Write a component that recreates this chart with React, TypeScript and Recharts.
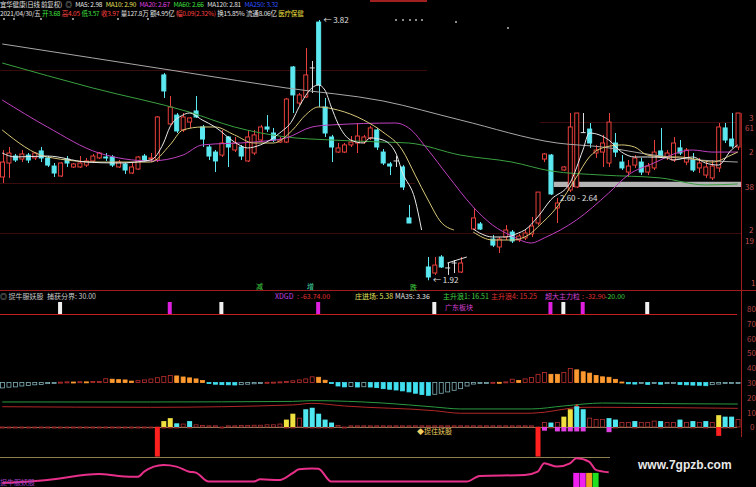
import React from 'react';
import {
  ComposedChart, Bar, Line, XAxis, YAxis,
  ReferenceArea, ReferenceDot,
} from 'recharts';

// ---- daily bars (oldest first), null = no print ----
const opens = [
  2.674, 2.776, 2.827, 2.805, 2.834, 2.813, 2.864, 2.813, 2.754, 2.681,
  2.805, 2.747, 2.747, 2.761, 2.791, 2.813, 2.820, 2.820, 2.747, 2.769,
  2.703, 2.732, 2.827, 2.805, 2.798, 3.419, 3.061, 3.126, 3.017, 3.075,
  3.156, 3.039, 2.893, 2.856, 2.834, 2.966, 2.871, 2.893, 2.791, 2.849,
  2.944, 3.039, 2.995, 2.929, 2.929, 3.477, 3.214, 3.258, 3.470, 3.805,
  3.185, 2.966, 2.856, 2.856, 2.908, 2.922, 2.929, 2.959, 3.017, 2.856,
  2.769, 2.791, 2.747, 2.375, null, null, 2.017, 1.973, 2.090, 2.010,
  2.046, 1.980, null, 2.294, 2.331, null, 2.221, 2.163, 2.236, 2.272,
  2.214, 2.229, 2.258, 2.338, 2.805, 2.834, 2.448, 2.725, 2.579, 2.601,
  2.998, 3.024, 2.849, 2.856, 2.776, 2.922, 2.783, 2.710, 2.761, 2.783,
  2.710, 2.740, 2.864, 2.820, 2.798, 2.886, 2.783, 2.798, 2.740, 2.688,
  2.667, 2.740, 3.032, 2.951, 2.893,
];
const highs = [
  2.871, 2.893, 2.842, 2.871, 2.849, 2.856, 2.893, 2.827, 2.776, 2.783,
  2.827, 2.776, 2.827, 2.813, 2.842, 2.856, 2.849, 2.834, 2.798, 2.776,
  2.776, 2.827, 2.842, 2.849, 3.119, 3.433, 3.265, 3.141, 3.141, 3.112,
  3.265, 3.054, 2.908, 2.871, 3.017, 2.973, 2.966, 2.908, 3.017, 3.017,
  3.054, 3.126, 3.032, 2.966, 3.251, 3.484, 3.287, 3.616, 3.521, 3.820,
  3.251, 2.981, 2.922, 2.922, 2.973, 3.068, 2.981, 3.046, 3.032, 2.878,
  2.783, 2.827, 2.761, 2.470, null, null, 2.090, 2.090, 2.104, 2.046,
  2.068, 2.090, null, 2.448, 2.345, null, 2.251, 2.236, 2.323, 2.287,
  2.258, 2.287, 2.382, 2.564, 2.849, 2.842, 2.521, 2.754, 3.141, 3.141,
  3.141, 3.068, 2.908, 2.981, 3.141, 2.995, 2.834, 2.798, 2.834, 2.813,
  2.776, 2.944, 3.032, 2.871, 2.966, 2.944, 2.886, 2.849, 2.813, 2.783,
  2.798, 3.068, 3.068, 3.141, 3.141,
];
const lows = [
  2.630, 2.667, 2.783, 2.783, 2.776, 2.798, 2.783, 2.747, 2.674, 2.674,
  2.747, 2.740, 2.740, 2.747, 2.776, 2.805, 2.791, 2.747, 2.740, 2.696,
  2.696, 2.725, 2.783, 2.783, 2.783, 3.251, 3.054, 2.995, 3.002, 3.032,
  3.105, 2.893, 2.798, 2.710, 2.820, 2.747, 2.856, 2.798, 2.783, 2.834,
  2.929, 3.002, 2.929, 2.922, 2.922, 3.141, 3.200, 3.251, 3.287, 3.185,
  2.966, 2.783, 2.849, 2.849, 2.893, 2.849, 2.915, 2.944, 2.871, 2.761,
  2.688, 2.747, 2.579, 2.338, null, null, 1.920, 1.959, 2.010, 1.959,
  1.973, 1.973, null, 2.287, 2.287, null, 2.163, 2.119, 2.214, 2.192,
  2.199, 2.214, 2.236, 2.323, 2.783, 2.542, 2.338, 2.718, 2.564, 2.594,
  2.995, 2.886, 2.813, 2.747, 2.747, 2.820, 2.725, 2.674, 2.740, 2.688,
  2.688, 2.725, 2.813, 2.798, 2.783, 2.834, 2.761, 2.710, 2.703, 2.667,
  2.652, 2.710, 2.922, 2.886, 2.871,
];
const closes = [
  2.783, 2.849, 2.798, 2.842, 2.798, 2.849, 2.813, 2.761, 2.703, 2.776,
  2.776, 2.769, 2.776, 2.791, 2.827, 2.849, 2.813, 2.761, 2.783, 2.725,
  2.747, 2.820, 2.791, 2.813, 3.112, 3.302, 3.185, 3.010, 3.112, 3.105,
  3.112, 2.951, 2.827, 2.791, 2.922, 2.893, 2.922, 2.827, 2.966, 2.981,
  3.039, 3.024, 2.944, 2.944, 3.243, 3.273, 3.273, 3.419, 3.470, 3.346,
  2.995, 2.893, 2.886, 2.908, 2.929, 2.973, 2.966, 3.032, 2.893, 2.776,
  2.754, 2.791, 2.601, 2.338, null, null, 1.944, 2.031, 2.017, 2.010,
  2.046, 2.046, null, 2.375, 2.294, null, 2.177, 2.221, 2.287, 2.207,
  2.243, 2.265, 2.316, 2.564, 2.842, 2.550, 2.484, 2.747, 3.039, 3.141,
  2.998, 2.922, 2.871, 2.922, 3.075, 2.856, 2.740, 2.754, 2.813, 2.710,
  2.754, 2.856, 2.827, 2.849, 2.922, 2.849, 2.871, 2.725, 2.776, 2.747,
  2.754, 3.039, 2.944, 2.900, 3.141,
];

// moving averages as [session, price] knots
type Knot = [number, number];
const ma5A: Knot[] = [
  [0, 2.849], [2, 2.820], [7, 2.827], [13, 2.783], [18, 2.776], [23, 2.798],
  [25, 2.922], [26, 3.039], [28, 3.126], [29, 3.141], [31, 3.090], [33, 3.039],
  [36, 2.929], [38, 2.886], [40, 2.908], [43, 2.995], [45, 3.090], [46, 3.185],
  [48, 3.324], [49, 3.346], [50, 3.309], [51, 3.185], [52, 3.068], [54, 2.944],
  [56, 2.922], [57, 2.959], [59, 2.944], [61, 2.849], [62, 2.710], [64, 2.506],
  [65, 2.287],
];
const ma5B: Knot[] = [[69, 2.046], [72, 2.090]];
const ma5C: Knot[] = [
  [73, 2.294], [74, 2.265], [76, 2.236], [78, 2.236], [80, 2.265], [81, 2.287],
  [83, 2.382], [85, 2.506], [88, 2.630], [90, 2.871], [91, 2.995], [94, 2.944],
  [96, 2.856], [98, 2.820], [100, 2.820], [103, 2.813], [104, 2.798], [107, 2.820],
  [109, 2.776], [111, 2.761], [113, 2.871], [114, 2.908],
];
const ma10A: Knot[] = [
  [0, 3.017], [7, 2.820], [15, 2.783], [23, 2.783], [26, 2.908], [28, 3.017],
  [31, 3.039], [33, 3.039], [36, 2.981], [39, 2.922], [42, 2.922], [45, 3.017],
  [47, 3.126], [49, 3.185], [52, 3.163], [56, 3.090], [59, 3.002], [62, 2.871],
  [64, 2.688], [66, 2.506], [68, 2.345], [70, 2.287],
];
const ma10C: Knot[] = [
  [73, 2.272], [76, 2.214], [79, 2.214], [82, 2.265], [83, 2.309], [86, 2.455],
  [89, 2.674], [91, 2.820], [93, 2.886], [96, 2.908], [98, 2.893], [100, 2.834],
  [103, 2.820], [105, 2.820], [108, 2.798], [110, 2.783], [113, 2.834], [114, 2.856],
];
const ma20: Knot[] = [
  [0, 3.236], [7, 3.039], [15, 2.849], [23, 2.791], [28, 2.834], [31, 2.908],
  [39, 2.929], [44, 2.959], [48, 3.039], [51, 3.054], [61, 3.068], [63, 3.032],
  [66, 2.871], [69, 2.688], [73, 2.455], [76, 2.323], [79, 2.243], [82, 2.192],
  [84, 2.229], [89, 2.360], [94, 2.557], [97, 2.688], [101, 2.776], [105, 2.856],
  [107, 2.871], [110, 2.856], [114, 2.856],
];
const ma60: Knot[] = [
  [0, 3.506], [14, 3.324], [29, 3.148], [36, 3.039], [44, 2.966], [51, 2.944],
  [59, 2.929], [63, 2.922], [71, 2.834], [79, 2.783], [85, 2.718], [93, 2.688],
  [102, 2.667], [109, 2.616], [114, 2.623],
];
const ma120: Knot[] = [
  [0, 3.645], [14, 3.543], [29, 3.433], [44, 3.324], [59, 3.229], [71, 3.090],
  [86, 2.922], [93, 2.893], [101, 2.834], [108, 2.798], [114, 2.783],
];

// support band drawn across the right side
const bandLow = 2.60;
const bandHigh = 2.64;
const bandFrom = 86;

// signal ticks
const whiteSignals = [9, 34, 67, 87, 100];
const magentaSignals = [26, 49, 85, 90];

// oscillator histogram around 30
const hist = [
  26.4, 26.9, 27.1, 27.7, 28.0, 28.5, 28.7, 29.3, 29.6, 30.3,
  30.5, 30.4, 30.6, 30.5, 30.7, 30.8, 32.6, 32.3, 32.0, 31.8,
  31.0, 31.3, 31.8, 32.4, 33.3, 34.2, 34.8, 34.5, 33.8, 33.2,
  32.5, 31.4, 29.6, 28.9, 28.6, 28.5, 28.4, 28.6, 28.9, 29.2,
  29.8, 30.2, 30.3, 30.5, 30.8, 31.2, 31.8, 32.5, 33.9, 33.6,
  31.6, 29.8, 27.7, 27.1, 27.3, 27.0, 27.2, 27.0, 26.6, 25.9,
  25.5, 25.0, 24.4, 23.7, 22.8, 21.9, 21.4, 22.1, 22.8, 23.7,
  24.8, 25.9, 27.7, 29.0, 29.5, 29.7, 30.2, 30.2, 30.5, 32.3,
  31.5, 32.5, 33.4, 35.6, 36.8, 35.6, 35.6, 36.8, 39.5, 38.6,
  37.3, 36.4, 34.8, 33.9, 33.6, 32.2, 30.4, 29.2, 29.0, 29.4,
  28.8, 29.6, 28.9, 29.3, 29.5, 28.7, 28.5, 28.3, 28.2, 27.9,
  28.6, 29.0, 29.4, 29.6, 29.9,
];
const histMid = 30;

// two slow oscillator lines
const slowGreen: Knot[] = [
  [0, 16.9], [23, 16.9], [45, 17.3], [48, 17.8], [59, 16.2], [67, 13.5],
  [71, 12.2], [82, 12.2], [87, 14.2], [93, 16.2], [102, 15.8], [114, 15.5],
];
const slowRed: Knot[] = [
  [0, 13.7], [23, 13.3], [45, 14.9], [48, 16.0], [53, 14.2], [67, 11.0],
  [71, 9.3], [82, 9.3], [90, 13.3], [93, 13.3], [114, 12.6],
];

// pulse bars around zero
const pulseYellow: Knot[] = [[25, 4], [26, 6], [44, 5], [45, 9], [87, 7], [88, 12], [111, 8]];
const pulseCyan: Knot[] = [
  [27, 2.5], [29, 4], [47, 12], [48, 13], [49, 9], [50, 5], [51, 3], [85, 3],
  [89, 14], [90, 12], [94, 6], [95, 5], [98, 4], [102, 4], [105, 5], [107, 4],
  [109, 4], [112, 7], [113, 7],
];
const pulseHold: Knot[] = [
  [28, 2], [30, 1.5], [31, 1], [32, 0.8], [33, 0.8], [35, 0.8], [36, 0.8], [37, 1],
  [38, 1], [39, 1.2], [40, 1.2], [41, 1.5], [42, 1.5], [43, 2], [46, 6], [52, 1],
  [54, 0.8], [55, 0.8], [56, 0.8], [57, 0.8], [58, 0.8], [59, 0.8], [60, 0.8],
  [61, 0.8], [62, 0.8], [63, 0.8], [64, 0.8], [65, 0.8], [66, 0.8], [67, 0.8],
  [68, 0.8], [69, 0.8], [70, 0.8], [71, 0.8], [72, 0.8], [73, 0.8], [74, 0.8],
  [75, 0.8], [76, 0.8], [77, 0.8], [78, 0.8], [79, 0.8], [80, 0.8], [81, 0.8],
  [82, 0.8], [84, 3], [86, 3], [91, 6], [92, 5], [93, 5], [96, 3], [97, 3],
  [99, 3], [100, 3], [101, 4], [103, 3], [104, 3], [106, 3], [108, 3], [110, 3],
  [114, 5],
];
const pulseMagenta: Knot[] = [[84, -2.5], [86, -3], [87, -3], [88, -3], [89, -3], [90, -3], [94, -3.5]];
const pulseRed: Knot[] = [[24, -20], [83, -20], [111, -6]];

// bottom strength line and blocks
const strength: Knot[] = [
  [0, 13], [7, 23], [15, 43], [18, 37], [21, 34], [22, 51], [25, 73], [27, 68],
  [29, 51], [30, 48], [32, 18], [39, 18], [40, 26], [43, 23], [45, 46], [46, 59],
  [48, 62], [49, 61], [51, 18], [72, 18], [74, 37], [81, 40], [83, 51], [84, 79],
  [86, 68], [88, 79], [89, 96], [91, 84], [92, 57], [94, 49],
];
const blockMagenta = [89, 90];
const blockOrange = [91];
const blockGreen = [92];

const N = opens.length;
const toMap = (k: Knot[]) => new Map(k.map(([i, v]) => [i, v]));
const series: Record<string, Map<number, number>> = {
  ma5a: toMap(ma5A), ma5b: toMap(ma5B), ma5c: toMap(ma5C),
  ma10a: toMap(ma10A), ma10c: toMap(ma10C),
  ma20: toMap(ma20), ma60: toMap(ma60), ma120: toMap(ma120),
  gLine: toMap(slowGreen), rLine: toMap(slowRed),
  pY: toMap(pulseYellow), pC: toMap(pulseCyan), pH: toMap(pulseHold),
  pM: toMap(pulseMagenta), pR: toMap(pulseRed),
  str: toMap(strength),
};

const rows = Array.from({ length: N }, (_, i) => {
  const r: any = {
    i, o: opens[i], h: highs[i], l: lows[i], c: closes[i],
    hist: hist[i], histPrev: i > 0 ? hist[i - 1] : null,
    sw: whiteSignals.includes(i) ? 1 : null,
    sm: magentaSignals.includes(i) ? 1 : null,
    bm: blockMagenta.includes(i) ? 47 : null,
    bo: blockOrange.includes(i) ? 47 : null,
    bg: blockGreen.includes(i) ? 47 : null,
  };
  for (const key of Object.keys(series)) r[key] = series[key].get(i) ?? null;
  return r;
});

const UP = '#e8403c';
const DOWN = '#5ce8f0';
const FLAT = '#dcdcdc';

function Candle(props: any) {
  const { x, y, width, height, payload } = props;
  const { o, h, l, c } = payload;
  if (o == null) return null;
  const k = h === l ? 0 : height / (h - l);
  const cx = Math.round(x + width / 2) + 0.5;
  const top = y + (h - Math.max(o, c)) * k;
  const bot = y + (h - Math.min(o, c)) * k;
  const color = c > o ? UP : c < o ? DOWN : FLAT;
  if (c === o) {
    return (
      <g>
        <line x1={cx} x2={cx} y1={y} y2={y + height} stroke={color} />
        <line x1={x} x2={x + width} y1={top} y2={top} stroke={color} />
      </g>
    );
  }
  return (
    <g>
      <line x1={cx} x2={cx} y1={y} y2={y + height} stroke={color} />
      <rect
        x={x + 0.5} y={top} width={width - 1} height={Math.max(bot - top, 1)}
        fill={c > o ? '#000' : color} stroke={color}
      />
    </g>
  );
}

function HistBar(props: any) {
  const { x, y, width, height, payload } = props;
  const v = payload.hist;
  const p = payload.histPrev;
  let fill = '#000';
  let stroke = '#c03030';
  if (v >= histMid) {
    if (p != null && v <= p) { fill = '#ff9a30'; stroke = '#ff9a30'; }
  } else if (p != null && v < p) {
    fill = '#40e0f0'; stroke = '#40e0f0';
  } else {
    stroke = '#7fb0b8';
  }
  return (
    <rect x={x + 0.5} y={y} width={width - 1} height={Math.max(height, 1)}
      fill={fill} stroke={stroke} strokeWidth={0.8} />
  );
}

function HollowBar(props: any) {
  const { x, y, width, height } = props;
  if (height == null) return null;
  return (
    <rect x={x + 0.5} y={y} width={width - 1} height={Math.max(Math.abs(height), 1)}
      fill="#000" stroke="#b03030" strokeWidth={0.8} />
  );
}

const W = 742;
const LEFT = -1.5;
const MAIN_TOP = 20;
const MAIN_H = 270;
const HEAD_ROOM = 10;
const PRICE_DOMAIN: [number, number] = [1.849, 3.82];
const OSC_TOP = 309;
const OSC_H = 149;
const OSC_DOMAIN: [number, number] = [-20.95, 79.73];

const lineProps = {
  type: 'monotone' as const, dot: false, connectNulls: true,
  isAnimationActive: false, strokeWidth: 1,
};

const box = (top: number, height: number): React.CSSProperties => ({
  position: 'absolute', left: LEFT, top, width: W, height,
});

const hLine = (left: number, top: number, width: number, color: string, h = 1) => (
  <div key={`h${left}-${top}`} style={{ position: 'absolute', left, top, width, height: h, background: color }} />
);

const label = (left: number, top: number, color: string, s: string, size = 7) => (
  <span key={`${left}-${top}-${s}`} style={{
    position: 'absolute', left, top, color, fontSize: size, lineHeight: 1, whiteSpace: 'nowrap',
  }}>{s}</span>
);

const row = (top: number, gap: number, items: [string, string][]) => (
  <div style={{
    position: 'absolute', left: 0, top, display: 'flex', gap, fontSize: 6.5,
    lineHeight: 1, letterSpacing: -0.2, whiteSpace: 'nowrap',
  }}>
    {items.map(([s, c], k) => <span key={k} style={{ color: c }}>{s}</span>)}
  </div>
);

const headerDots: [number, number][] = [
  [3, 18], [13, 18], [40, 18], [72, 18], [117, 18], [147, 18],
  [395, 19], [402, 19], [409, 19], [415, 19], [421, 19], [455, 21], [507, 27],
];

export default function App() {
  const peak = highs[49] as number;
  const trough = lows[66] as number;
  return (
    <div style={{
      position: 'absolute', left: 0, top: 0, width: 756, height: 487, overflow: 'hidden',
      background: '#000', fontFamily: "'Noto Sans CJK SC', 'DejaVu Sans', sans-serif",
    }}>
      {/* grid & frame */}
      {hLine(370, 0, 57, '#a02020', 2)}
      {hLine(0, 70, 427, '#3a0c0c')}
      {hLine(540, 122, 201, '#3a0c0c')}
      {hLine(0, 183, 415, '#3a0c0c')}
      {hLine(0, 233, 741, '#3a0c0c')}
      {hLine(0, 290, 756, '#a01c1c')}
      {hLine(0, 314, 737, '#c02020')}
      {hLine(0, 457, 610, '#8a8050')}
      <div style={{ position: 'absolute', left: 741, top: 113, width: 1, height: 324, background: '#a02020' }} />
      {headerDots.map(([x, y]) => (
        <div key={`d${x}`} style={{ position: 'absolute', left: x, top: y, width: 1.5, height: 1.5, background: '#8a8a8a' }} />
      ))}

      {/* header */}
      {row(1, 3.5, [
        ['宜华健康(日线 前复权)', '#e0e0e0'], ['◎', '#cccccc'], ['MA5: 2.98', '#e8e8e8'],
        ['MA10: 2.90', '#e8e060'], ['MA20: 2.67', '#e040e0'], ['MA60: 2.66', '#40e040'],
        ['MA120: 2.81', '#e0e0e0'], ['MA250: 3.32', '#3050ff'],
      ])}
      {row(10, 1.5, [
        ['2021/04/30/五', '#e0e0e0'], ['开3.68', '#40e040'], ['高4.05', '#ff4040'],
        ['低3.57', '#40e040'], ['收3.97', '#ff4040'], ['量127.8万', '#e0e0e0'],
        ['额4.95亿', '#e0e0e0'], ['幅0.09(2.32%)', '#ff4040'], ['换15.85%', '#e0e0e0'],
        ['流通8.06亿', '#e0e0e0'], ['医疗保健', '#f0e040'],
      ])}

      {/* right axis fragments */}
      {label(749, 114, '#c05050', '3', 8)}
      {label(745, 124, '#c05050', '61', 8)}
      {label(749, 148, '#c05050', '2', 8)}
      {label(745, 183, '#c05050', '38', 8)}
      {label(749, 226, '#c05050', '2', 8)}
      {label(745, 237, '#c05050', '19', 8)}
      {label(751, 279, '#c05050', '1', 8)}
      {['80', '70', '60', '50', '40', '30', '20', '10', '0'].map((t, k) =>
        label(t === '0' ? 750 : 747, 305 + k * 14.8, '#b04040', t, 8))}

      {/* price panel */}
      <div style={box(MAIN_TOP - HEAD_ROOM, MAIN_H + HEAD_ROOM)}>
        <ComposedChart width={W} height={MAIN_H + HEAD_ROOM} data={rows}
          margin={{ top: HEAD_ROOM, right: 0, bottom: 0, left: 0 }}>
          <XAxis dataKey="i" hide />
          <YAxis hide domain={PRICE_DOMAIN} allowDataOverflow />
          <ReferenceArea x1={bandFrom} x2={N - 1} y1={bandLow} y2={bandHigh}
            fill="#b4b4b4" fillOpacity={1} stroke="none" />
          <Line dataKey="ma120" stroke="#aaa6a6" {...lineProps} />
          <Line dataKey="ma60" stroke="#3aa040" {...lineProps} />
          <Line dataKey="ma20" stroke="#c040c0" {...lineProps} />
          <Line dataKey="ma10a" stroke="#d8c878" {...lineProps} />
          <Line dataKey="ma10c" stroke="#d8c878" {...lineProps} />
          <Line dataKey="ma5a" stroke="#e8e8e8" {...lineProps} />
          <Line dataKey="ma5b" stroke="#e8e8e8" {...lineProps} />
          <Line dataKey="ma5c" stroke="#e8e8e8" {...lineProps} />
          <Bar dataKey={(d: any) => (d.o == null ? null : [d.l, d.h])} barSize={5}
            shape={(p: any) => <Candle {...p} />} isAnimationActive={false} />
          <ReferenceDot x={49} y={peak} r={0}
            label={{ value: `← ${peak.toFixed(2)}`, position: 'right', fill: '#e0e0e0', fontSize: 8 }} />
          <ReferenceDot x={66} y={trough} r={0}
            label={{ value: `← ${trough.toFixed(2)}`, position: 'right', fill: '#e0e0e0', fontSize: 8 }} />
        </ComposedChart>
      </div>
      {label(560, 194, '#e0e0e0', `${bandLow.toFixed(2)} - ${bandHigh.toFixed(2)}`, 8)}

      {/* panel separators and tags */}
      {label(256, 283, '#40d040', '减', 7)}
      {label(307, 283, '#40d0a0', '增', 7)}
      {label(410, 284, '#40d040', '跌', 7)}
      {label(0, 293, '#c8c8c8', '◎ 捉牛服妖股')}
      {label(47, 293, '#c8c8c8', '捕获分界: 30.00')}
      {label(275, 293, '#c040e0', 'XDGD')}
      {label(297, 293, '#e03030', ': -63.74.00')}
      {label(355, 293, '#e0e060', '庄进场: 5.38')}
      {label(395, 293, '#e0e0e0', 'MA35: 3.36')}
      {label(443, 293, '#40d040', '主升浪1: 16.51')}
      {label(491, 293, '#e03030', '主升浪4: 15.25')}
      {label(545, 293, '#d040d0', '超大主力粒')}
      {label(582, 293, '#e03030', ': -32.90')}
      {label(605, 293, '#40d040', '-20.00')}
      {label(445, 304, '#d040d0', '广东板块')}

      {/* signal ticks */}
      <div style={box(290, 24)}>
        <ComposedChart width={W} height={24} data={rows} margin={{ top: 0, right: 0, bottom: 0, left: 0 }}>
          <XAxis dataKey="i" hide />
          <YAxis hide domain={[0, 2]} />
          <Bar dataKey="sw" stackId="s" barSize={4} fill="#f0f0f0" isAnimationActive={false} />
          <Bar dataKey="sm" stackId="s" barSize={4} fill="#e020e0" isAnimationActive={false} />
        </ComposedChart>
      </div>

      {/* oscillator panel */}
      <div style={box(OSC_TOP, OSC_H)}>
        <ComposedChart width={W} height={OSC_H} data={rows} margin={{ top: 0, right: 0, bottom: 0, left: 0 }}>
          <XAxis dataKey="i" hide />
          <YAxis hide domain={OSC_DOMAIN} allowDataOverflow />
          <Bar dataKey={(d: any) => [Math.min(histMid, d.hist), Math.max(histMid, d.hist)]}
            barSize={5} shape={(p: any) => <HistBar {...p} />} isAnimationActive={false} />
          <Line dataKey="gLine" stroke="#2a9a40" {...lineProps} />
          <Line dataKey="rLine" stroke="#b02828" {...lineProps} />
          <ReferenceDot x={89} y={12} r={0}
            label={{ value: '↑', position: 'center', fill: '#ff3030', fontSize: 10 }} />
        </ComposedChart>
      </div>
      {hLine(0, 427, 737, '#8a8560')}
      <div style={box(OSC_TOP, OSC_H)}>
        <ComposedChart width={W} height={OSC_H} data={rows} stackOffset="sign"
          margin={{ top: 0, right: 0, bottom: 0, left: 0 }}>
          <XAxis dataKey="i" hide />
          <YAxis hide domain={OSC_DOMAIN} allowDataOverflow />
          <Bar dataKey="pH" stackId="p" barSize={5} shape={(p: any) => <HollowBar {...p} />} isAnimationActive={false} />
          <Bar dataKey="pY" stackId="p" barSize={5} fill="#f0e040" isAnimationActive={false} />
          <Bar dataKey="pC" stackId="p" barSize={5} fill="#50e8f0" isAnimationActive={false} />
          <Bar dataKey="pM" stackId="p" barSize={5} fill="#e040e0" isAnimationActive={false} />
          <Bar dataKey="pR" stackId="p" barSize={5} fill="#ff2020" isAnimationActive={false} />
          <ReferenceDot x={67} y={-3} r={0}
            label={{ value: '◆捉住妖股', position: 'center', fill: '#f0d060', fontSize: 7 }} />
        </ComposedChart>
      </div>

      {/* strength panel */}
      <div style={box(457, 30)}>
        <ComposedChart width={W} height={30} data={rows} margin={{ top: 0, right: 0, bottom: 0, left: 0 }}>
          <XAxis dataKey="i" hide />
          <YAxis hide domain={[0, 100]} />
          <Bar dataKey="bm" stackId="b" barSize={6} fill="#f020f0" isAnimationActive={false} />
          <Bar dataKey="bo" stackId="b" barSize={5} fill="#f0a020" isAnimationActive={false} />
          <Bar dataKey="bg" stackId="b" barSize={5} fill="#20e020" isAnimationActive={false} />
          <Line dataKey="str" stroke="#e8308a" {...lineProps} strokeWidth={2} />
        </ComposedChart>
      </div>
      {label(0, 479, '#a040c0', '捉牛服妖股', 7)}
      <div style={{
        position: 'absolute', left: 612, top: 455, width: 144, height: 32, background: '#000',
        color: '#e8e8e8', fontFamily: "'Liberation Sans', Arial, sans-serif", fontWeight: 700,
        fontSize: 12, lineHeight: '16px', paddingLeft: 26, boxSizing: 'border-box', paddingTop: 2,
      }}>www.7gpzb.com</div>
    </div>
  );
}
